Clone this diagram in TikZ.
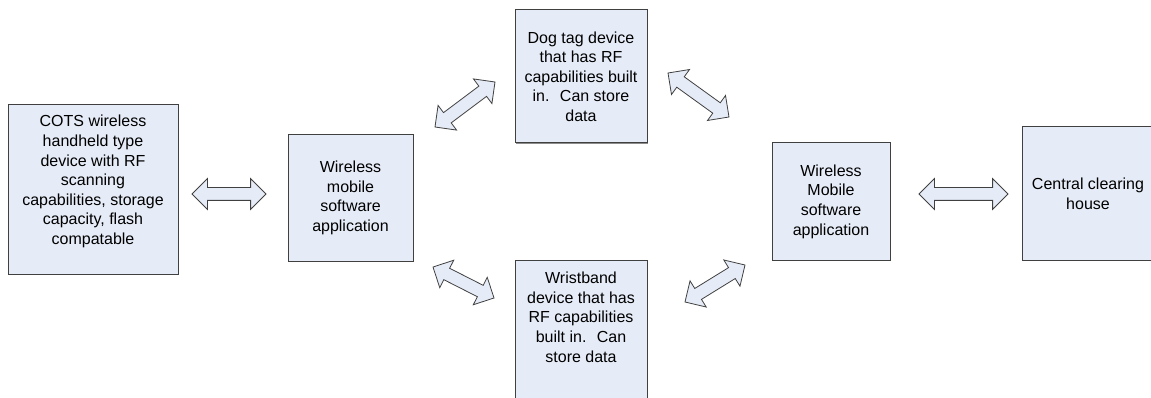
\documentclass[tikz,border=0pt]{standalone}
\usepackage{fontspec}
\setmainfont{Liberation Sans}
\usetikzlibrary{shapes.arrows,calc,shadows}

\definecolor{boxfill}{RGB}{230,236,247}
\definecolor{boxline}{RGB}{64,64,64}

\tikzset{
  box/.style={draw=boxline,fill=boxfill,line width=1pt,align=center,inner sep=0pt,
    font=\fontsize{16}{19.6}\selectfont,
    drop shadow={shadow xshift=1.2pt,shadow yshift=-1.2pt,fill=black!45,opacity=1}},
  boxtext/.style={align=center,inner sep=0pt,font=\fontsize{16}{19.6}\selectfont},
  blockarrow/.style={double arrow,draw=boxline,fill=boxfill,line width=0.8pt,
    inner sep=6pt,double arrow head extend=9pt,minimum width=0pt},
  link/.style={to path={let \p1=(\tikztostart),\p2=(\tikztotarget),
      \n1={atan2(\y2-\y1,\x2-\x1)},\n2={veclen(\x2-\x1,\y2-\y1)} in
      ($(\tikztostart)!0.5!(\tikztotarget)$) node[blockarrow,rotate=\n1,minimum height=\n2] {}}}
}

\begin{document}
\begin{tikzpicture}[x=1pt,y=-1pt]
    \useasboundingbox (0,0) rectangle (1151,398);
    \clip (0,0) rectangle (1151,398);
    \node[box,minimum width=170pt,minimum height=169pt,
      label={[boxtext,yshift=8pt]center:COTS wireless\\handheld type\\device with RF\\scanning\\capabilities, storage\\capacity, flash\\compatable}]
      (cots) at (93,189.5) {};
    \node[box,minimum width=125pt,minimum height=126pt] (app_1) at (350.5,198) {Wireless\\mobile\\software\\application};
    \node[box,minimum width=132pt,minimum height=133pt] (dogtag) at (581,76.5) {Dog tag device\\that has RF\\capabilities built\\in.~ Can store\\data};
    \node[box,anchor=north,minimum width=132pt,minimum height=170pt,
      label={[boxtext,anchor=north,yshift=-12pt]north:Wristband\\device that has\\RF capabilities\\built in.~ Can\\store data}]
      (wrist) at (581,260) {};
    \node[box,minimum width=118pt,minimum height=117pt] (app_2) at (831,201.5) {Wireless\\Mobile\\software\\application};
    \node[box,minimum width=132pt,minimum height=133pt] (clear) at (1088,193.5) {Central clearing\\house};

    \coordinate (h_1a) at (192,194);
    \coordinate (h_1b) at (266,194);
    \coordinate (d_1a) at (435,127);
    \coordinate (d_1b) at (495,82);
    \coordinate (d_2a) at (668,73);
    \coordinate (d_2b) at (729,117);
    \coordinate (d_3a) at (433,267);
    \coordinate (d_3b) at (494,298);
    \coordinate (d_4a) at (685,302);
    \coordinate (d_4b) at (745,265);
    \coordinate (h_2a) at (919,194);
    \coordinate (h_2b) at (1008,194);
    \path[link]
    (h_1a) edge (h_1b)
    (d_1a) edge (d_1b)
    (d_2a) edge (d_2b)
    (d_3a) edge (d_3b)
    (d_4a) edge (d_4b)
    (h_2a) edge (h_2b);
\end{tikzpicture}
\end{document}
